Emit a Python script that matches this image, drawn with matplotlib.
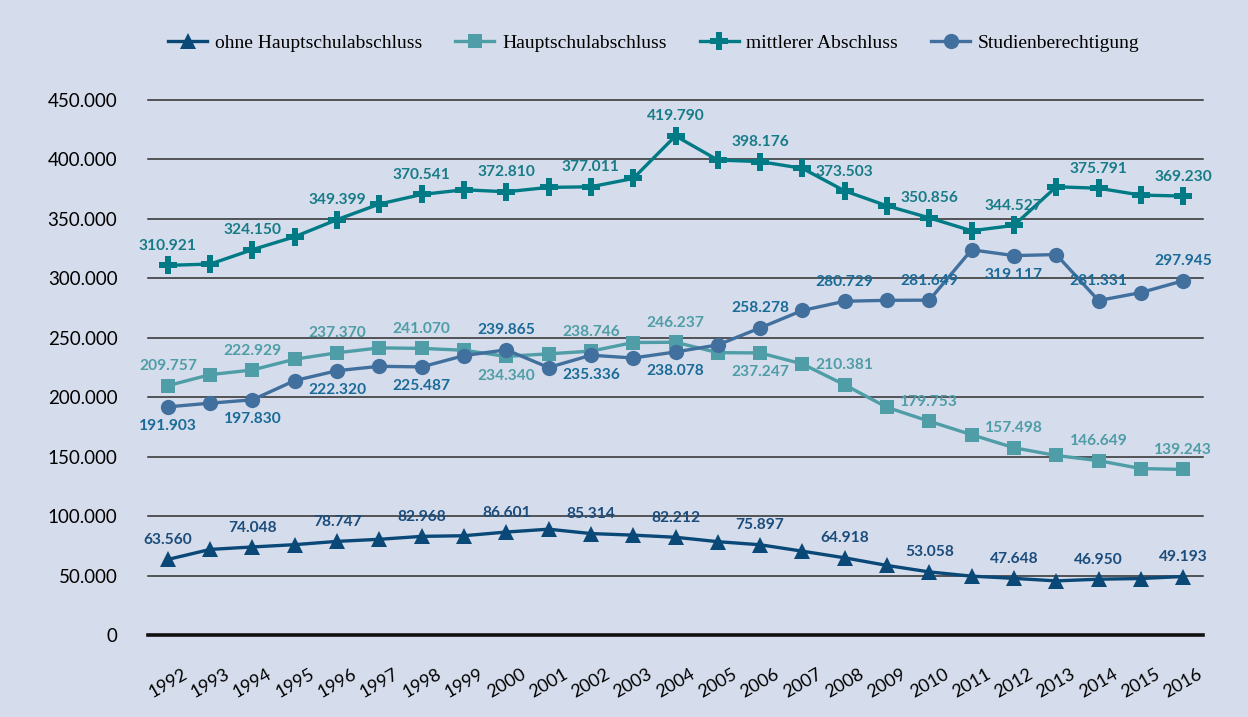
import matplotlib.pyplot as plt
from matplotlib.ticker import FuncFormatter

# Data (Absolventen/Abgänger nach Abschlussart)
years = list(range(1992, 2017))

ohne_hs = [63560, 72000, 74048, 76000, 78747, 80500, 82968, 83500, 86601, 89000,
           85314, 84000, 82212, 78500, 75897, 70500, 64918, 58500, 53058, 49500,
           47648, 45500, 46950, 47500, 49193]
hauptschul = [209757, 219000, 222929, 232000, 237370, 241500, 241070, 239500, 234340, 236500,
              238746, 246000, 246237, 237500, 237247, 228000, 210381, 191500, 179753, 168500,
              157498, 151000, 146649, 140000, 139243]
mittlerer = [310921, 312000, 324150, 335000, 349399, 362500, 370541, 374500, 372810, 376500,
             377011, 384000, 419790, 399500, 398176, 392500, 373503, 361000, 350856, 340000,
             344527, 377000, 375791, 370000, 369230]
studien = [191903, 195000, 197830, 214000, 222320, 226000, 225487, 235000, 239865, 225000,
           235336, 233000, 238078, 244000, 258278, 273000, 280729, 281500, 281649, 324000,
           319117, 320000, 281331, 288000, 297945]

series_names = ['ohne Hauptschulabschluss', 'Hauptschulabschluss',
                'mittlerer Abschluss', 'Studienberechtigung']

# which points get a value label: year -> +1 above / -1 below
lbl_ohne = {y: 1 for y in range(1992, 2017, 2)}
lbl_hs = {y: 1 for y in range(1992, 2017, 2)}
lbl_hs[2000] = -1
lbl_hs[2006] = -1
lbl_mit = {y: 1 for y in range(1992, 2017, 2)}
lbl_stu = {1992: -1, 1994: -1, 1996: -1, 1998: -1, 2000: 1, 2002: -1, 2004: -1,
           2006: 1, 2008: 1, 2010: 1, 2012: -1, 2014: 1, 2016: 1}

def de_fmt(v):
    return f'{v:,.0f}'.replace(',', '.')

bg = '#d5dceb'
fig = plt.figure(figsize=(12.48, 7.17), dpi=100, facecolor=bg)
ax = fig.add_axes([148/1248, 1-635/717, (1203-148)/1248, (635-100)/717])
ax.set_facecolor(bg)

ax.set_xlim(1991.53, 2016.47)
ax.set_ylim(0, 450000)

# grid lines
for g in range(50000, 450001, 50000):
    ax.axhline(g, color='#2e2e2e', lw=1.1, zorder=1, clip_on=False)
ax.axhline(0, color='#111111', lw=2.6, zorder=1, clip_on=False)

styles = [
    (ohne_hs, '#0a4878', '^', 12, '#1b4c7b', lbl_ohne),
    (hauptschul, '#4e9da7', 's', 10, '#4e9da7', lbl_hs),
    (mittlerer, '#007a84', 'P', 13, '#177c88', lbl_mit),
    (studien, '#42709e', 'o', 11, '#1a6b98', lbl_stu),
]

for (vals, col, mk, ms, tcol, lbls), name in zip(styles, series_names):
    ax.plot(years, vals, color=col, lw=2.4, marker=mk, markersize=ms,
            markeredgewidth=0, label=name, zorder=3, clip_on=False)
    for y, v in zip(years, vals):
        if y in lbls:
            ax.annotate(de_fmt(v), (y, v), xytext=(0, 14 * lbls[y]),
                        textcoords='offset points', ha='center', va='center',
                        fontsize=11.2, color=tcol, family='Lato', fontweight='bold',
                        zorder=4)

for s in ax.spines.values():
    s.set_visible(False)

ax.set_yticks(range(0, 450001, 50000))
ax.yaxis.set_major_formatter(FuncFormatter(lambda v, p: de_fmt(v)))
ax.tick_params(axis='y', length=0, pad=22, labelsize=13.5)
for t in ax.get_yticklabels():
    t.set_family('Lato')

ax.set_xticks(years)
ax.set_xticklabels([str(y) for y in years], rotation=30, fontsize=13, family='Lato')
ax.tick_params(axis='x', length=0, pad=22)

leg = fig.legend(loc='center', bbox_to_anchor=(0.524, 1-43/717), ncol=4, frameon=False,
                 prop={'family': 'Liberation Serif', 'size': 14}, handlelength=2.0,
                 columnspacing=1.7, handletextpad=0.4)

fig.savefig('out.png', dpi=100, facecolor=bg)
